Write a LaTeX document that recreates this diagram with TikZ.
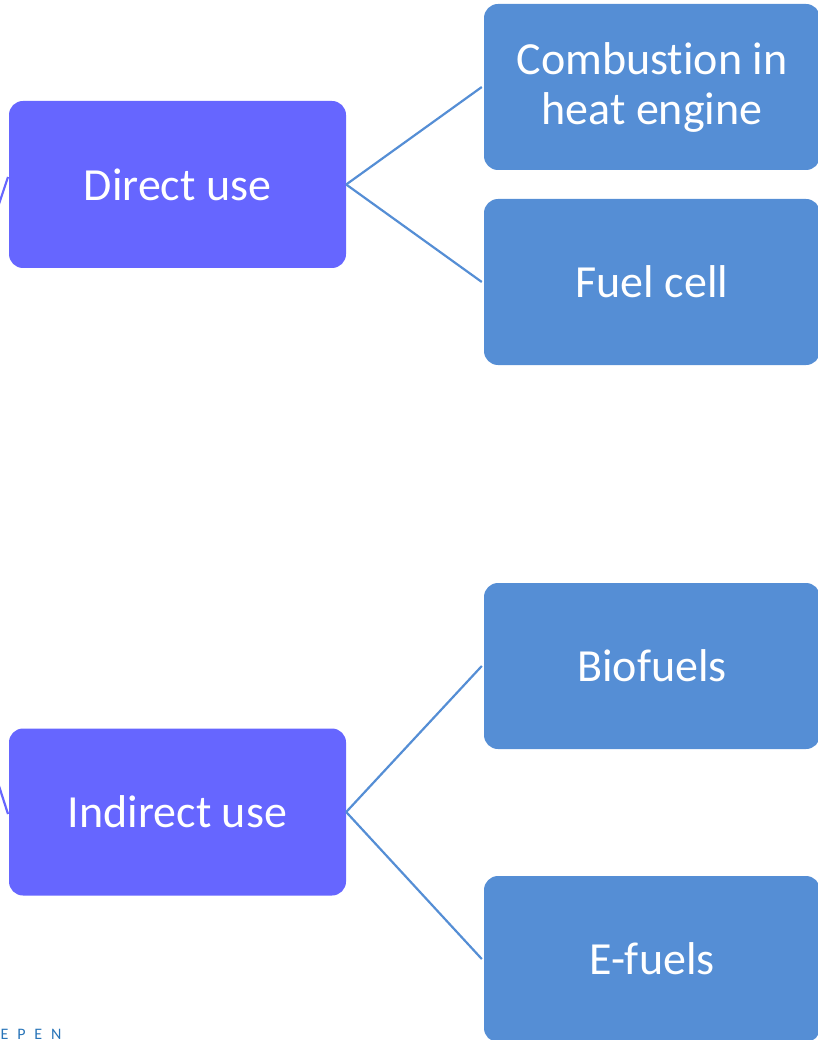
\documentclass[tikz,border=0pt]{standalone}
\usepackage{fontspec}
\setmainfont[Ligatures=NoCommon]{Carlito}
\definecolor{purp}{HTML}{6666FF}
\definecolor{bluebox}{HTML}{558ED5}
\definecolor{epen}{HTML}{2874B8}
\begin{document}
\begin{tikzpicture}[x=1pt,y=-1pt,
  lvlone/.style={fill=purp,rounded corners=14pt,minimum width=337pt,minimum height=167pt,
    text=white,font=\fontsize{46}{50}\selectfont,align=center,inner sep=0pt},
  lvltwo/.style={fill=bluebox,rounded corners=14pt,minimum width=336pt,minimum height=166pt,
    text=white,font=\fontsize{46}{50}\selectfont,align=center,inner sep=0pt},
  conn/.style={draw=bluebox,line width=2.2pt},
  pconn/.style={draw=purp,line width=2.2pt}]
\useasboundingbox (0,0) rectangle (818,1040);
\begin{scope}
\clip (0,0) rectangle (818,1040);
\node[lvlone] (direct) at (177.5,184.5) {Direct use};
\node[lvlone] (indirect) at (177.5,812) {Indirect use};
\node[lvltwo] (comb) at (652,87) {Combustion in\\heat engine};
\node[lvltwo] (fuel) at (652,282) {Fuel cell};
\node[lvltwo] (bio) at (652,666) {Biofuels};
\node[lvltwo] (efuel) at (652,959) {E-fuels};
\draw[conn] (direct.east) -- ([xshift=-2pt]comb.west);
\draw[conn] (direct.east) -- ([xshift=-2pt]fuel.west);
\draw[conn] (indirect.east) -- ([xshift=-2pt]bio.west);
\draw[conn] (indirect.east) -- ([xshift=-2pt]efuel.west);
\coordinate (pa) at (-1,204);
\coordinate (pb) at (8,177);
\coordinate (pc) at (-1,786);
\coordinate (pd) at (8,814);
\draw[pconn] (pa) -- (pb);
\draw[pconn] (pc) -- (pd);
\node[anchor=base west,text=epen,font=\fontsize{16}{16}\selectfont,inner sep=0pt] (epentext) at (0.5,1039.5) {E\hspace{9pt}P\hspace{8.5pt}E\hspace{9pt}N};
\end{scope}
\end{tikzpicture}
\end{document}
